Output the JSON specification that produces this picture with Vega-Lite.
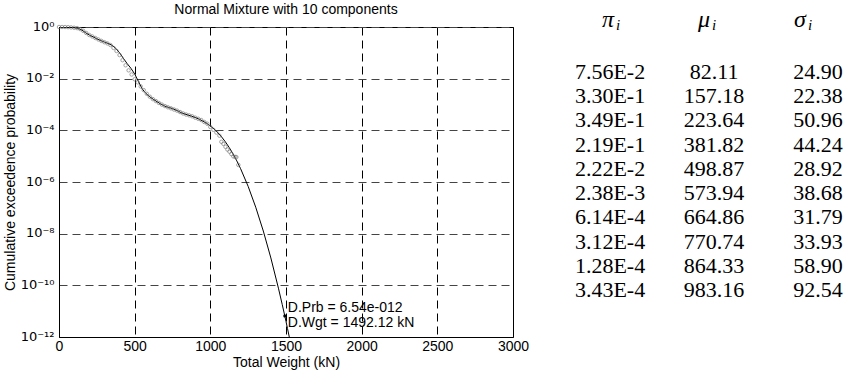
{
  "$schema": "https://vega.github.io/schema/vega-lite/v6.json",
  "background": "white",
  "padding": {"left": 2, "top": 2, "right": 4, "bottom": 4},
  "spacing": 20,
  "config": {
    "font": "Liberation Sans",
    "view": {"stroke": "black", "strokeWidth": 1},
    "axis": {
      "labelFont": "Liberation Sans", "labelFontSize": 14, "labelColor": "black",
      "titleFont": "Liberation Sans", "titleFontSize": 14, "titleFontWeight": "normal", "titleColor": "black",
      "domainColor": "black", "domainWidth": 1, "ticks": false,
      "gridOpacity": 1, "gridWidth": 1, "gridDash": [8, 5],
      "labelOverlap": false
    }
  },
  "datasets": {
    "curve": [
      {"w": 0, "p": 0.9996}, {"w": 25, "p": 0.99876}, {"w": 50, "p": 0.99202}, {"w": 75, "p": 0.96962},
      {"w": 100, "p": 0.9373}, {"w": 125, "p": 0.893}, {"w": 150, "p": 0.7748}, {"w": 175, "p": 0.6049},
      {"w": 200, "p": 0.4911}, {"w": 225, "p": 0.4162}, {"w": 250, "p": 0.3503}, {"w": 275, "p": 0.298},
      {"w": 300, "p": 0.2613}, {"w": 325, "p": 0.2313}, {"w": 350, "p": 0.1956}, {"w": 375, "p": 0.1494},
      {"w": 400, "p": 0.1006}, {"w": 425, "p": 0.0619}, {"w": 450, "p": 0.0385}, {"w": 475, "p": 0.02528},
      {"w": 500, "p": 0.01529}, {"w": 525, "p": 0.007728}, {"w": 550, "p": 0.00401}, {"w": 575, "p": 0.002655},
      {"w": 600, "p": 0.001984}, {"w": 625, "p": 0.001555}, {"w": 650, "p": 0.001259}, {"w": 675, "p": 0.001023},
      {"w": 700, "p": 0.00086}, {"w": 725, "p": 0.000771}, {"w": 750, "p": 0.000696}, {"w": 775, "p": 0.000599},
      {"w": 800, "p": 0.000506}, {"w": 825, "p": 0.000441}, {"w": 850, "p": 0.0003965}, {"w": 875, "p": 0.0003565},
      {"w": 900, "p": 0.0003147}, {"w": 925, "p": 0.0002715}, {"w": 950, "p": 0.0002288}, {"w": 975, "p": 0.0001874},
      {"w": 1000, "p": 0.0001481}, {"w": 1025, "p": 0.0001121}, {"w": 1050, "p": 0.0000807}, {"w": 1075, "p": 0.00005505},
      {"w": 1100, "p": 0.0000355}, {"w": 1125, "p": 0.0000215}, {"w": 1150, "p": 0.00001225}, {"w": 1175, "p": 0.00000655},
      {"w": 1200, "p": 0.00000328}, {"w": 1250, "p": 6.76e-7}, {"w": 1300, "p": 1.058e-7}, {"w": 1350, "p": 1.266e-8},
      {"w": 1400, "p": 1.146e-9}, {"w": 1450, "p": 7.76e-11}, {"w": 1475, "p": 1.826e-11}, {"w": 1492.12, "p": 6.54e-12},
      {"w": 1500, "p": 3.98e-12}, {"w": 1510, "p": 2.13e-12}, {"w": 1525, "p": 8.1e-13}
    ],
    "obs": [
      {"w": 0, "p": 1.0}, {"w": 20, "p": 0.999}, {"w": 40, "p": 0.996}, {"w": 60, "p": 0.985}, {"w": 80, "p": 0.962},
      {"w": 100, "p": 0.935}, {"w": 120, "p": 0.905}, {"w": 140, "p": 0.83}, {"w": 160, "p": 0.71}, {"w": 180, "p": 0.585},
      {"w": 200, "p": 0.49}, {"w": 220, "p": 0.43}, {"w": 240, "p": 0.375}, {"w": 260, "p": 0.33}, {"w": 280, "p": 0.29},
      {"w": 300, "p": 0.258}, {"w": 320, "p": 0.232}, {"w": 340, "p": 0.2}, {"w": 360, "p": 0.155}, {"w": 380, "p": 0.118},
      {"w": 400, "p": 0.082}, {"w": 420, "p": 0.052}, {"w": 440, "p": 0.033}, {"w": 460, "p": 0.021}, {"w": 480, "p": 0.0145},
      {"w": 500, "p": 0.0095}, {"w": 520, "p": 0.0072}, {"w": 540, "p": 0.005}, {"w": 560, "p": 0.0036}, {"w": 580, "p": 0.0026},
      {"w": 600, "p": 0.002}, {"w": 620, "p": 0.00162}, {"w": 640, "p": 0.00136}, {"w": 660, "p": 0.00115}, {"w": 680, "p": 0.00099},
      {"w": 700, "p": 0.00087}, {"w": 720, "p": 0.00078}, {"w": 740, "p": 0.00071}, {"w": 760, "p": 0.00064}, {"w": 780, "p": 0.00058},
      {"w": 800, "p": 0.00051}, {"w": 820, "p": 0.00045}, {"w": 840, "p": 0.00041}, {"w": 860, "p": 0.00038}, {"w": 880, "p": 0.00035},
      {"w": 900, "p": 0.00031}, {"w": 920, "p": 0.00028}, {"w": 940, "p": 0.00025}, {"w": 960, "p": 0.00021}, {"w": 980, "p": 0.00018},
      {"w": 1000, "p": 0.000135}, {"w": 1020, "p": 0.000105}, {"w": 1040, "p": 0.000082}, {"w": 1060, "p": 0.000062},
      {"w": 1073, "p": 0.000036}, {"w": 1086, "p": 0.00003}, {"w": 1100, "p": 0.000023}, {"w": 1113, "p": 0.000018},
      {"w": 1126, "p": 0.000015}, {"w": 1139, "p": 0.000012}, {"w": 1152, "p": 0.0000098}, {"w": 1165, "p": 0.0000093},
      {"w": 1172, "p": 0.0000092}, {"w": 1185, "p": 0.0000046}
    ],
    "tip": [
      {"w": 1492.12, "p": 6.54e-12, "label": "D.Prb = 6.54e-012\nD.Wgt = 1492.12 kN"}
    ],
    "table": [
      {"row": 1, "col": 1, "value": "7.56E-2"}, {"row": 1, "col": 2, "value": "82.11"}, {"row": 1, "col": 3, "value": "24.90"},
      {"row": 2, "col": 1, "value": "3.30E-1"}, {"row": 2, "col": 2, "value": "157.18"}, {"row": 2, "col": 3, "value": "22.38"},
      {"row": 3, "col": 1, "value": "3.49E-1"}, {"row": 3, "col": 2, "value": "223.64"}, {"row": 3, "col": 3, "value": "50.96"},
      {"row": 4, "col": 1, "value": "2.19E-1"}, {"row": 4, "col": 2, "value": "381.82"}, {"row": 4, "col": 3, "value": "44.24"},
      {"row": 5, "col": 1, "value": "2.22E-2"}, {"row": 5, "col": 2, "value": "498.87"}, {"row": 5, "col": 3, "value": "28.92"},
      {"row": 6, "col": 1, "value": "2.38E-3"}, {"row": 6, "col": 2, "value": "573.94"}, {"row": 6, "col": 3, "value": "38.68"},
      {"row": 7, "col": 1, "value": "6.14E-4"}, {"row": 7, "col": 2, "value": "664.86"}, {"row": 7, "col": 3, "value": "31.79"},
      {"row": 8, "col": 1, "value": "3.12E-4"}, {"row": 8, "col": 2, "value": "770.74"}, {"row": 8, "col": 3, "value": "33.93"},
      {"row": 9, "col": 1, "value": "1.28E-4"}, {"row": 9, "col": 2, "value": "864.33"}, {"row": 9, "col": 3, "value": "58.90"},
      {"row": 10, "col": 1, "value": "3.43E-4"}, {"row": 10, "col": 2, "value": "983.16"}, {"row": 10, "col": 3, "value": "92.54"}
    ],
    "head": [
      {"row": -1, "col": 1, "sym": "π", "sub": "i"},
      {"row": -1, "col": 2, "sym": "μ", "sub": "i"},
      {"row": -1, "col": 3, "sym": "σ", "sub": "i"}
    ]
  },
  "hconcat": [
    {
      "width": 454,
      "height": 310,
      "title": {"text": "Normal Mixture with 10 components", "font": "Liberation Sans", "fontSize": 14, "fontWeight": "normal", "color": "black", "anchor": "middle", "offset": 3},
      "layer": [
        {
          "data": {"name": "curve"},
          "mark": {"type": "line", "color": "black", "strokeWidth": 1, "clip": true},
          "encoding": {
            "x": {
              "field": "w", "type": "quantitative",
              "scale": {"domain": [0, 3000], "nice": false, "zero": false},
              "axis": {"values": [0, 500, 1000, 1500, 2000, 2500, 3000], "format": "d", "title": "Total Weight (kN)", "grid": true, "gridColor": "black", "labelFlush": false, "labelPadding": 2, "titlePadding": 2}
            },
            "y": {
              "field": "p", "type": "quantitative",
              "scale": {"type": "log", "domain": [1e-12, 1], "nice": false},
              "axis": {
                "values": [1, 0.01, 0.0001, 1e-6, 1e-8, 1e-10, 1e-12],
                "labelExpr": "['10⁰','10⁻¹','10⁻²','10⁻³','10⁻⁴','10⁻⁵','10⁻⁶','10⁻⁷','10⁻⁸','10⁻⁹','10⁻¹⁰','10⁻¹¹','10⁻¹²'][round(-log(datum.value)/LN10)]",
                "labelFont": "DejaVu Sans", "labelFontSize": 13, "labelOffset": -1,
                "title": "Cumulative exceedence probability", "grid": true, "gridColor": "#444444", "labelPadding": 5, "titlePadding": 3
              }
            }
          }
        },
        {
          "data": {"name": "obs"},
          "mark": {"type": "point", "shape": "circle", "filled": false, "color": "#6e6e6e", "size": 12, "strokeWidth": 0.9},
          "encoding": {
            "x": {"field": "w", "type": "quantitative"},
            "y": {"field": "p", "type": "quantitative"}
          }
        },
        {
          "data": {"name": "tip"},
          "mark": {"type": "point", "shape": "circle", "filled": true, "color": "black", "size": 10, "opacity": 1},
          "encoding": {
            "x": {"field": "w", "type": "quantitative"},
            "y": {"field": "p", "type": "quantitative"}
          }
        },
        {
          "data": {"name": "tip"},
          "mark": {"type": "text", "align": "left", "baseline": "middle", "dx": 3, "dy": -8, "lineBreak": "\n", "lineHeight": 15, "font": "Liberation Sans", "fontSize": 14, "color": "black"},
          "encoding": {
            "x": {"field": "w", "type": "quantitative"},
            "y": {"field": "p", "type": "quantitative"},
            "text": {"field": "label"}
          }
        }
      ]
    },
    {
      "width": 290,
      "height": 310,
      "view": {"stroke": null},
      "resolve": {"scale": {"x": "independent"}},
      "layer": [
        {
          "data": {"name": "table"},
          "mark": {"type": "text", "font": "Liberation Serif", "fontSize": 22, "color": "black", "baseline": "middle"},
          "encoding": {
            "x": {"field": "col", "type": "quantitative", "scale": {"domain": [0.423, 3.211], "nice": false, "zero": false}, "axis": null},
            "y": {"field": "row", "type": "quantitative", "scale": {"domain": [-0.858, 11.94], "nice": false, "zero": false, "reverse": true}, "axis": null},
            "text": {"field": "value"}
          }
        },
        {
          "data": {"name": "head"},
          "mark": {"type": "text", "font": "Liberation Serif", "fontSize": 24, "fontStyle": "italic", "color": "black", "baseline": "middle", "dy": -4},
          "encoding": {
            "x": {"field": "col", "type": "quantitative", "scale": {"domain": [0.396, 3.417], "nice": false, "zero": false}, "axis": null},
            "y": {"field": "row", "type": "quantitative"},
            "text": {"field": "sym"}
          }
        },
        {
          "data": {"name": "head"},
          "mark": {"type": "text", "font": "Liberation Serif", "fontSize": 15, "fontStyle": "italic", "color": "black", "baseline": "middle", "dx": 10, "dy": 1},
          "encoding": {
            "x": {"field": "col", "type": "quantitative", "scale": {"domain": [0.396, 3.417], "nice": false, "zero": false}, "axis": null},
            "y": {"field": "row", "type": "quantitative"},
            "text": {"field": "sub"}
          }
        }
      ]
    }
  ]
}
